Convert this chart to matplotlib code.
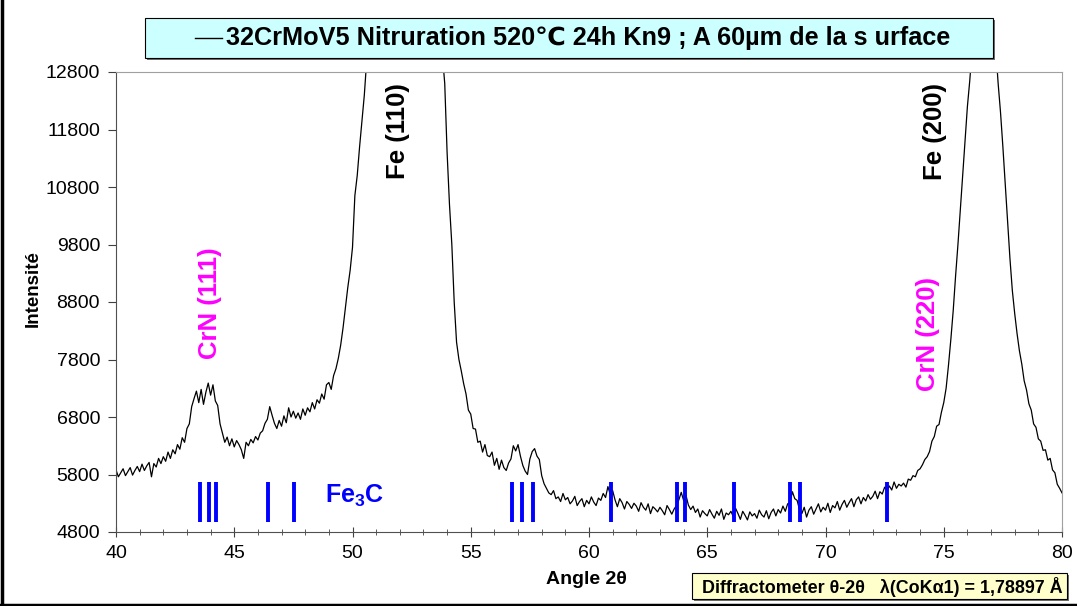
import numpy as np
import matplotlib
matplotlib.use("Agg")
import matplotlib.pyplot as plt
from matplotlib.patches import Rectangle
from matplotlib.lines import Line2D
from matplotlib.ticker import MultipleLocator

plt.rcParams['font.family'] = ['Liberation Sans', 'DejaVu Sans']
plt.rcParams['mathtext.fontset'] = 'custom'
plt.rcParams['mathtext.rm'] = 'Liberation Sans'
plt.rcParams['mathtext.bf'] = 'Liberation Sans:bold'

# --- data: diffractogram, step 0.1 deg from 40 to 80 ---
angle_start = 40.0
angle_step = 0.1
intensity = [
    5880, 5760, 5830, 5900, 5780, 5850, 5920, 5790, 5870, 5940,  # 40
    5850, 5980, 5870, 5950, 6010, 5760, 5990, 5930, 6080, 5990,  # 41
    6110, 6030, 6190, 6080, 6230, 6160, 6320, 6240, 6440, 6360,  # 42
    6600, 6680, 6980, 7120, 7250, 7050, 7280, 7020, 7230, 7390,  # 43
    7180, 7360, 7080, 7000, 6680, 6520, 6360, 6450, 6300, 6420,  # 44
    6280, 6390, 6320, 6230, 6080, 6360, 6300, 6410, 6350, 6460,  # 45
    6400, 6520, 6560, 6690, 6760, 6980, 6830, 6690, 6600, 6740,  # 46
    6640, 6820, 6700, 6960, 6800, 6900, 6780, 6870, 6760, 6940,  # 47
    6830, 6960, 6890, 7050, 6940, 7100, 7040, 7200, 7110, 7360,  # 48
    7400, 7280, 7520, 7640, 7820, 8050, 8350, 8700, 9050, 9350,  # 49
    9750, 10650, 11000, 11500, 11950, 12400, 13000, 14000, 15500, 17000,  # 50
    19000, 21000, 24000, 27000, 31000, 35000, 40000, 46000, 52000, 57000,  # 51
    60000, 61000, 59000, 55000, 49000, 43000, 37000, 32000, 28000, 25000,  # 52
    22000, 20000, 18500, 17000, 16000, 15000, 14200, 13600, 13100, 12600,  # 53
    11400, 10500, 9800, 8800, 8100, 7800, 7600, 7380, 7200, 6920,  # 54
    6850, 6600, 6590, 6360, 6380, 6190, 6320, 6130, 6110, 6190,  # 55
    5960, 6080, 5890, 6050, 5920, 5870, 6000, 6070, 6300, 6210,  # 56
    6320, 6120, 5960, 5860, 5800, 6070, 6200, 6250, 6120, 6060,  # 57
    5780, 5640, 5560, 5480, 5450, 5520, 5380, 5410, 5330, 5470,  # 58
    5360, 5400, 5290, 5340, 5420, 5260, 5330, 5380, 5240, 5350,  # 59
    5290, 5410, 5320, 5260, 5390, 5350, 5470, 5400, 5590, 5450,  # 60
    5520, 5360, 5240, 5380, 5310, 5200, 5330, 5280, 5210, 5300,  # 61
    5250, 5160, 5310, 5230, 5180, 5290, 5120, 5240, 5200, 5150,  # 62
    5230, 5170, 5100, 5260, 5190, 5110, 5200, 5260, 5360, 5490,  # 63
    5350, 5440, 5270, 5190, 5250, 5140, 5200, 5060, 5170, 5120,  # 64
    5080, 5190, 5110, 5040, 5160, 5090, 5200, 5020, 5130, 5100,  # 65
    5160, 5070, 5210, 5120, 5020, 5160, 5090, 5010, 5150, 5080,  # 66
    5120, 5040, 5180, 5100, 5060, 5170, 5030, 5140, 5200, 5080,  # 67
    5190, 5130, 5250, 5160, 5290, 5310, 5500, 5380, 5350, 5190,  # 68
    5120, 5230, 5060, 5180, 5240, 5110, 5200, 5290, 5150, 5230,  # 69
    5180, 5300, 5140, 5260, 5220, 5330, 5180, 5280, 5350, 5230,  # 70
    5310, 5380, 5240, 5360, 5410, 5290, 5400, 5340, 5450, 5370,  # 71
    5420, 5510, 5380, 5500, 5460, 5580, 5520, 5600, 5530, 5670,  # 72
    5560, 5630, 5600, 5650, 5580, 5720, 5700, 5780, 5760, 5870,  # 73
    5900, 5970, 6060, 6110, 6200, 6380, 6460, 6640, 6670, 6880,  # 74
    7050, 7300, 7700, 8150, 8650, 9250, 9800, 10400, 11000, 11600,  # 75
    12200, 12650, 13200, 14500, 16500, 19000, 22000, 24000, 23000, 20000,  # 76
    17000, 14800, 13200, 12600, 12100, 11500, 10850, 10200, 9550, 9000,  # 77
    8600, 8250, 7950, 7720, 7430, 7270, 7030, 6920, 6680, 6620,  # 78
    6420, 6380, 6220, 6230, 6050, 6080, 5880, 5830, 5630, 5560,  # 79
    5480,  # 80
]
two_theta = angle_start + angle_step * np.arange(len(intensity))

# Fe3C reference lines
fe3c_pos = [43.55, 43.92, 44.23, 46.43, 47.51, 56.73, 57.15, 57.65,
            60.92, 63.74, 64.05, 66.12, 68.5, 68.92, 72.59]
fe3c_low, fe3c_high = 4970, 5670

# peak labels (text, angle, intensity, colour)
peak_labels = [
    ("CrN (111)", 43.97, 8780, "#FF00FF"),
    ("Fe (110)", 51.92, 11770, "black"),
    ("CrN (220)", 74.33, 8250, "#FF00FF"),
    ("Fe (200)", 74.63, 11770, "black"),
]

title = "32CrMoV5 Nitruration 520\u2103 24h Kn9 ; A 60\u00b5m de la s urface"
info = "Diffractometer \u03b8-2\u03b8   \u03bb(CoK\u03b11) = 1,78897 \u00c5"

# --- figure ---
fig = plt.figure(figsize=(10.77, 6.06), dpi=100)
ax = fig.add_axes([116 / 1077, 1 - 532 / 606, 946 / 1077, 460 / 606])

ax.plot(two_theta, intensity, color="black", lw=0.9)
ax.vlines(fe3c_pos, fe3c_low, fe3c_high, color="#0000FF", lw=2.8)

for txt, xx, yy, col in peak_labels:
    ax.text(xx, yy, txt, rotation=90, ha="center", va="center",
            color=col, fontsize=18.5, fontweight="bold")
ax.text(50.1, 5430, r"$\mathbf{Fe_3C}$", ha="center", va="center",
        color="#0000FF", fontsize=18)

ax.set_xlim(40, 80)
ax.set_ylim(4800, 12800)
ax.set_yticks(np.arange(4800, 12801, 1000))
ax.xaxis.set_major_locator(MultipleLocator(5))
ax.xaxis.set_minor_locator(MultipleLocator(1))
ax.tick_params(axis="x", which="major", direction="inout", length=7,
               color="#404040", labelsize=14, pad=6)
ax.tick_params(axis="x", which="minor", direction="inout", length=4,
               color="#404040")
ax.tick_params(axis="y", direction="out", length=5.5, color="#404040",
               labelsize=14, pad=6)

for side in ["left", "bottom"]:
    ax.spines[side].set_color("#505050")
for side in ["top", "right"]:
    ax.spines[side].set_color("#a0a0a0")

ax.set_xlabel("Angle 2\u03b8", fontsize=14, fontweight="bold")
ax.xaxis.set_label_coords(0.497, -0.085)
ax.set_ylabel("Intensit\u00e9", fontsize=13.5, fontweight="bold")
ax.yaxis.set_label_coords(-0.078, 0.53)

# title box (legend of the Excel chart)
W, H = 1077, 606
fig.patches.append(Rectangle((147 / W, 1 - 60 / H), 848 / W, 40 / H,
                             transform=fig.transFigure, facecolor="#707070",
                             edgecolor="none", zorder=0))
fig.patches.append(Rectangle((145 / W, 1 - 58 / H), 848 / W, 40 / H,
                             transform=fig.transFigure, facecolor="#CCFFFF",
                             edgecolor="black", lw=0.8, zorder=1))
fig.lines.append(Line2D([195 / W, 222 / W], [1 - 38 / H, 1 - 38 / H],
                        transform=fig.transFigure, color="black", lw=1))
fig.text(226 / W, 1 - 38 / H, title, ha="left", va="center",
         fontsize=18.2, fontweight="bold")

# info box bottom right
fig.patches.append(Rectangle((694 / W, 1 - 601 / H), 375 / W, 26 / H,
                             transform=fig.transFigure, facecolor="#707070",
                             edgecolor="none", zorder=0))
fig.patches.append(Rectangle((692 / W, 1 - 599 / H), 375 / W, 26 / H,
                             transform=fig.transFigure, facecolor="#FFFFCC",
                             edgecolor="black", lw=0.8, zorder=1))
fig.text(882 / W, 1 - 587 / H, info, ha="center", va="center",
         fontsize=12.9, fontweight="bold")

# chart area border (left and bottom visible)
fig.lines.append(Line2D([1.5 / W, 1.5 / W], [0, 1], transform=fig.transFigure,
                        color="black", lw=2.5))
fig.lines.append(Line2D([0, 1], [1.5 / H, 1.5 / H], transform=fig.transFigure,
                        color="black", lw=2.5))

fig.savefig("out.png", dpi=100)
